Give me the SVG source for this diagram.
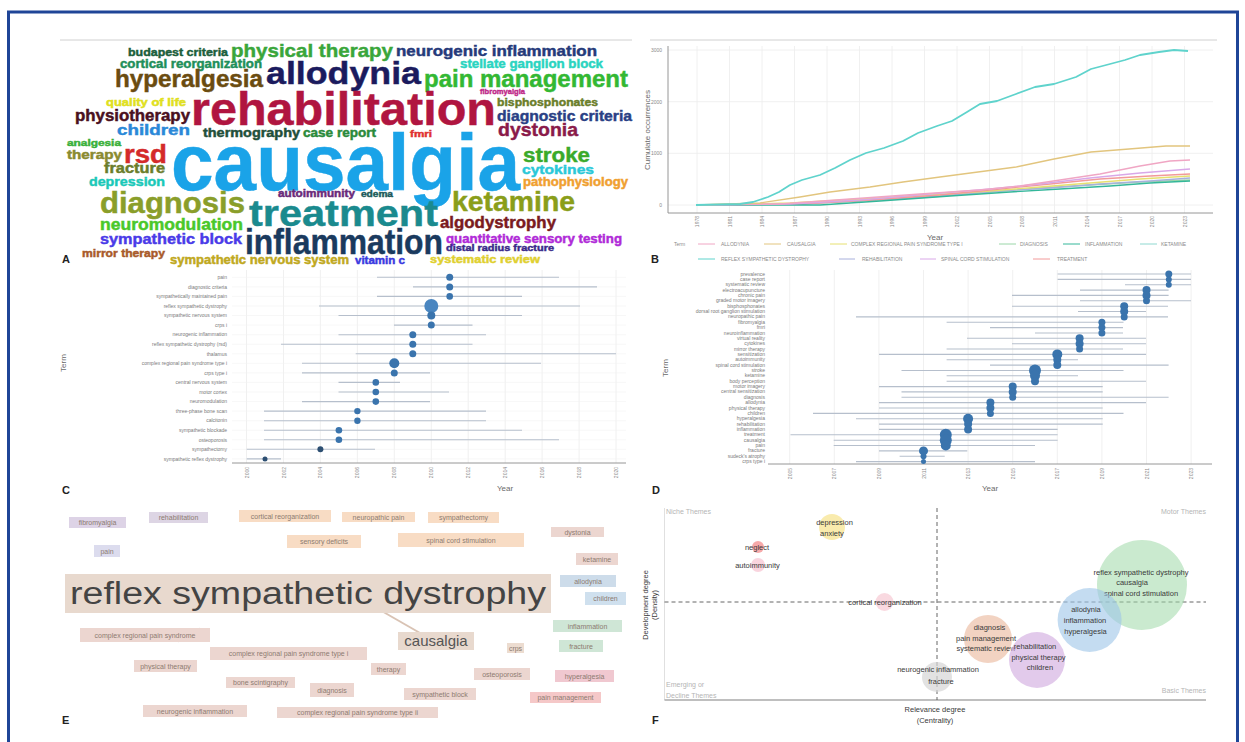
<svg xmlns="http://www.w3.org/2000/svg" width="1245" height="742" viewBox="0 0 1245 742">
<style>
text{font-family:"Liberation Sans",Arial,sans-serif}
.wc{font-family:"Liberation Sans Narrow","Liberation Sans","DejaVu Sans Condensed",sans-serif;font-weight:bold;fill:currentColor;stroke:currentColor;stroke-width:0.45}
.tk{font-size:5px;fill:#8a8a8a}
.ax{stroke:#8a8a8a;stroke-width:0.9}
.gr{stroke:#ececec;stroke-width:0.8}
.rl{stroke:#f2f2f2;stroke-width:0.6}
.seg{stroke:#b6bfcc;stroke-width:1.1}
.dot{fill:#3a74ad}
.lab{font-size:5px;fill:#7a7a7a;text-anchor:end}
.ttl{font-size:8px;fill:#6a6a6a;text-anchor:middle}
.leg{font-size:5px;fill:#8a8a8a}
.pl{font-size:11px;font-weight:bold;fill:#222}
.eb{font-size:7px;fill:#8c7b70;text-anchor:middle}
.ft{font-size:7.5px;fill:#3a3a3a;text-anchor:middle}
.qt{font-size:7px;fill:#b5b5b5}
</style>
<rect width="1245" height="742" fill="#fff"/>
<rect x="8.5" y="12" width="1229" height="740" fill="none" stroke="#1f4597" stroke-width="3"/>

<g id="panel-a">
<line x1="60" y1="40" x2="632" y2="40" stroke="#d0d0d0" stroke-width="1"/>
<text class="wc" x="128" y="56" font-size="11" textLength="100" lengthAdjust="spacingAndGlyphs" color="#1b5e3b">budapest criteria</text>
<text class="wc" x="231" y="57" font-size="19" textLength="162" lengthAdjust="spacingAndGlyphs" color="#3aa63a">physical therapy</text>
<text class="wc" x="396" y="56" font-size="15" textLength="201" lengthAdjust="spacingAndGlyphs" color="#253a7a">neurogenic inflammation</text>
<text class="wc" x="120" y="68" font-size="12" textLength="142" lengthAdjust="spacingAndGlyphs" color="#1e8f5a">cortical reorganization</text>
<text class="wc" x="460" y="68" font-size="12" textLength="143" lengthAdjust="spacingAndGlyphs" color="#2ad4c0">stellate ganglion block</text>
<text class="wc" x="115" y="87" font-size="23" textLength="148" lengthAdjust="spacingAndGlyphs" color="#6b4c10">hyperalgesia</text>
<text class="wc" x="266" y="84" font-size="32" textLength="155" lengthAdjust="spacingAndGlyphs" color="#1b1b5e">allodynia</text>
<text class="wc" x="424" y="87" font-size="23" textLength="204" lengthAdjust="spacingAndGlyphs" color="#33b833">pain management</text>
<text class="wc" x="480" y="94" font-size="8" textLength="45" lengthAdjust="spacingAndGlyphs" color="#c02a8a">fibromyalgia</text>
<text class="wc" x="106" y="106" font-size="10" textLength="80" lengthAdjust="spacingAndGlyphs" color="#e0e020">quality of life</text>
<text class="wc" x="191" y="125" font-size="47" textLength="305" lengthAdjust="spacingAndGlyphs" color="#b01540">rehabilitation</text>
<text class="wc" x="497" y="106" font-size="11" textLength="101" lengthAdjust="spacingAndGlyphs" color="#6a7d2a">bisphosphonates</text>
<text class="wc" x="75" y="121" font-size="16" textLength="115" lengthAdjust="spacingAndGlyphs" color="#4a1020">physiotherapy</text>
<text class="wc" x="497" y="121" font-size="15" textLength="135" lengthAdjust="spacingAndGlyphs" color="#2a3f85">diagnostic criteria</text>
<text class="wc" x="117" y="135" font-size="15" textLength="73" lengthAdjust="spacingAndGlyphs" color="#2a88d8">children</text>
<text class="wc" x="203" y="137" font-size="12" textLength="97" lengthAdjust="spacingAndGlyphs" color="#1f4f3a">thermography</text>
<text class="wc" x="303" y="137" font-size="12" textLength="73" lengthAdjust="spacingAndGlyphs" color="#2a8a3a">case report</text>
<text class="wc" x="410" y="137" font-size="9" textLength="22" lengthAdjust="spacingAndGlyphs" color="#e03030">fmri</text>
<text class="wc" x="498" y="136" font-size="19" textLength="80" lengthAdjust="spacingAndGlyphs" color="#8a1a4a">dystonia</text>
<text class="wc" x="67" y="146" font-size="9" textLength="54" lengthAdjust="spacingAndGlyphs" color="#3ab03a">analgesia</text>
<text class="wc" x="67" y="159" font-size="12" textLength="55" lengthAdjust="spacingAndGlyphs" color="#8a8a30">therapy</text>
<text class="wc" x="124" y="163" font-size="25" textLength="43" lengthAdjust="spacingAndGlyphs" color="#d42a2a">rsd</text>
<text class="wc" x="171" y="190" font-size="80" textLength="349" lengthAdjust="spacingAndGlyphs" color="#1aa3e8">causalgia</text>
<text class="wc" x="523" y="162" font-size="21" textLength="67" lengthAdjust="spacingAndGlyphs" color="#3aaa2a">stroke</text>
<text class="wc" x="104" y="173" font-size="14" textLength="61" lengthAdjust="spacingAndGlyphs" color="#6b7d2a">fracture</text>
<text class="wc" x="522" y="174" font-size="13" textLength="72" lengthAdjust="spacingAndGlyphs" color="#2ac8d8">cytokines</text>
<text class="wc" x="89" y="186" font-size="13" textLength="76" lengthAdjust="spacingAndGlyphs" color="#1ac8b8">depression</text>
<text class="wc" x="523" y="186" font-size="12" textLength="105" lengthAdjust="spacingAndGlyphs" color="#f0a030">pathophysiology</text>
<text class="wc" x="278" y="197" font-size="10" textLength="77" lengthAdjust="spacingAndGlyphs" color="#6a2a7a">autoimmunity</text>
<text class="wc" x="361" y="197" font-size="9" textLength="32" lengthAdjust="spacingAndGlyphs" color="#1a5a5a">edema</text>
<text class="wc" x="100" y="213" font-size="29" textLength="145" lengthAdjust="spacingAndGlyphs" color="#8a9e2a">diagnosis</text>
<text class="wc" x="249" y="226" font-size="37" textLength="189" lengthAdjust="spacingAndGlyphs" color="#1a8a8e">treatment</text>
<text class="wc" x="452" y="211" font-size="28" textLength="123" lengthAdjust="spacingAndGlyphs" color="#8a9e1a">ketamine</text>
<text class="wc" x="100" y="230" font-size="16" textLength="143" lengthAdjust="spacingAndGlyphs" color="#4ac82a">neuromodulation</text>
<text class="wc" x="440" y="228" font-size="17" textLength="116" lengthAdjust="spacingAndGlyphs" color="#7a1a20">algodystrophy</text>
<text class="wc" x="100" y="244" font-size="15" textLength="142" lengthAdjust="spacingAndGlyphs" color="#4a3ae8">sympathetic block</text>
<text class="wc" x="245" y="254" font-size="35" textLength="198" lengthAdjust="spacingAndGlyphs" color="#1a3a5e">inflammation</text>
<text class="wc" x="446" y="243" font-size="12" textLength="176" lengthAdjust="spacingAndGlyphs" color="#b02ad8">quantitative sensory testing</text>
<text class="wc" x="446" y="251" font-size="9" textLength="108" lengthAdjust="spacingAndGlyphs" color="#3a2a8a">distal radius fracture</text>
<text class="wc" x="82" y="257" font-size="11" textLength="83" lengthAdjust="spacingAndGlyphs" color="#a85a2a">mirror therapy</text>
<text class="wc" x="170" y="264" font-size="12" textLength="179" lengthAdjust="spacingAndGlyphs" color="#c0a820">sympathetic nervous system</text>
<text class="wc" x="355" y="264" font-size="10" textLength="50" lengthAdjust="spacingAndGlyphs" color="#3a3ae0">vitamin c</text>
<text class="wc" x="430" y="263" font-size="11" textLength="110" lengthAdjust="spacingAndGlyphs" color="#e0d030">systematic review</text>
<text class="pl" x="62" y="263" font-size="9">A</text>
</g>

<g id="panel-b">
<line x1="650" y1="40" x2="1217" y2="40" stroke="#d0d0d0" stroke-width="1"/>
<g class="gr">
<line x1="668" y1="50" x2="1213" y2="50"/><line x1="668" y1="101.7" x2="1213" y2="101.7"/><line x1="668" y1="153.3" x2="1213" y2="153.3"/><line x1="668" y1="205" x2="1213" y2="205"/>
<line x1="697" y1="46" x2="697" y2="213"/><line x1="729.5" y1="46" x2="729.5" y2="213"/><line x1="762" y1="46" x2="762" y2="213"/><line x1="794.5" y1="46" x2="794.5" y2="213"/><line x1="827" y1="46" x2="827" y2="213"/><line x1="859.5" y1="46" x2="859.5" y2="213"/><line x1="892" y1="46" x2="892" y2="213"/><line x1="924.5" y1="46" x2="924.5" y2="213"/><line x1="957" y1="46" x2="957" y2="213"/><line x1="989.5" y1="46" x2="989.5" y2="213"/><line x1="1022" y1="46" x2="1022" y2="213"/><line x1="1054.5" y1="46" x2="1054.5" y2="213"/><line x1="1087" y1="46" x2="1087" y2="213"/><line x1="1119.5" y1="46" x2="1119.5" y2="213"/><line x1="1152" y1="46" x2="1152" y2="213"/><line x1="1184.5" y1="46" x2="1184.5" y2="213"/>
</g>
<line class="ax" x1="668" y1="46" x2="668" y2="213"/>
<line class="ax" x1="668" y1="213" x2="1213" y2="213"/>
<g class="tk" text-anchor="end">
<text x="662" y="52">3000</text><text x="662" y="103.5">2000</text><text x="662" y="155">1000</text><text x="662" y="207">0</text>
</g>
<text class="ttl" font-size="7" transform="translate(650,130) rotate(-90)">Cumulate occurrences</text>
<g class="tk" text-anchor="end">
<text transform="translate(699,216) rotate(-90)">1978</text><text transform="translate(731.5,216) rotate(-90)">1981</text><text transform="translate(764,216) rotate(-90)">1984</text><text transform="translate(796.5,216) rotate(-90)">1987</text><text transform="translate(829,216) rotate(-90)">1990</text><text transform="translate(861.5,216) rotate(-90)">1993</text><text transform="translate(894,216) rotate(-90)">1996</text><text transform="translate(926.5,216) rotate(-90)">1999</text><text transform="translate(959,216) rotate(-90)">2002</text><text transform="translate(991.5,216) rotate(-90)">2005</text><text transform="translate(1024,216) rotate(-90)">2008</text><text transform="translate(1056.5,216) rotate(-90)">2011</text><text transform="translate(1089,216) rotate(-90)">2014</text><text transform="translate(1121.5,216) rotate(-90)">2017</text><text transform="translate(1154,216) rotate(-90)">2020</text><text transform="translate(1186.5,216) rotate(-90)">2023</text>
</g>
<text class="ttl" x="935" y="240">Year</text>
<g fill="none" stroke-width="1.3" stroke-linejoin="round">
<polyline stroke="#9ad6a8" points="696,205 790,204 860,201 930,197 990,192 1040,188 1090,185 1140,182 1190,180"/>
<polyline stroke="#a8b0dc" points="696,205 800,204 870,200 940,196 1000,191 1050,188 1100,184 1150,181 1190,178"/>
<polyline stroke="#e6e070" points="696,205 790,203 860,199 930,195 990,191 1040,187 1090,183 1140,179 1190,176"/>
<polyline stroke="#f29a9a" points="696,205 800,204 870,200 940,195 1000,189 1050,184 1100,179 1150,176 1190,174"/>
<polyline stroke="#34b79a" points="696,205 820,205 880,201 950,196 1010,192 1060,189 1110,186 1150,183 1190,181"/>
<polyline stroke="#d9a8e8" points="696,205 790,204 860,200 930,194 990,189 1040,184 1090,178 1140,173 1190,169"/>
<polyline stroke="#f0a6c4" points="696,205 780,204 850,199 920,194 980,190 1020,186 1060,180 1100,174 1140,166 1170,161 1190,160"/>
<polyline stroke="#e2c57e" points="696,205 760,203 800,197 830,192 870,187 903,182 940,177 978,172 1016,167 1054,159 1091,152 1129,149 1166,146 1190,146"/>
<polyline stroke="#5fd3cc" stroke-width="1.8" points="696,205 740,204 753,202 768,197 779,192 790,185 802,180 820,175 835,168 850,160 866,153 884,148 903,141 918,133 937,126 952,121 967,112 980,104 997,101 1016,94 1035,87 1054,84 1076,77 1091,69 1110,64 1125,60 1140,55 1159,52 1174,50 1188,51"/>
</g>
<g class="leg">
<text x="674" y="246">Term</text>
<line x1="698" y1="244" x2="715" y2="244" stroke="#f0a6c4"/><text x="721" y="246">ALLODYNIA</text>
<line x1="764" y1="244" x2="781" y2="244" stroke="#e2c57e"/><text x="787" y="246">CAUSALGIA</text>
<line x1="830" y1="244" x2="847" y2="244" stroke="#e6e070"/><text x="851" y="246">COMPLEX REGIONAL PAIN SYNDROME TYPE I</text>
<line x1="999" y1="244" x2="1016" y2="244" stroke="#9ad6a8"/><text x="1020" y="246">DIAGNOSIS</text>
<line x1="1063" y1="244" x2="1080" y2="244" stroke="#34b79a"/><text x="1085" y="246">INFLAMMATION</text>
<line x1="1140" y1="244" x2="1157" y2="244" stroke="#8fd8d0"/><text x="1161" y="246">KETAMINE</text>
<line x1="698" y1="259" x2="715" y2="259" stroke="#5fd3cc"/><text x="721" y="261">REFLEX SYMPATHETIC DYSTROPHY</text>
<line x1="839" y1="259" x2="855" y2="259" stroke="#a8b0dc"/><text x="862" y="261">REHABILITATION</text>
<line x1="920" y1="259" x2="936" y2="259" stroke="#d9a8e8"/><text x="941" y="261">SPINAL CORD STIMULATION</text>
<line x1="1033" y1="259" x2="1050" y2="259" stroke="#f29a9a"/><text x="1057" y="261">TREATMENT</text>
</g>
<text class="pl" x="651" y="263" font-size="9">B</text>
</g>

<g id="panel-c">
<g class="gr">
<line x1="246.5" y1="270" x2="246.5" y2="463"/><line x1="283.5" y1="270" x2="283.5" y2="463"/><line x1="320.4" y1="270" x2="320.4" y2="463"/><line x1="357.4" y1="270" x2="357.4" y2="463"/><line x1="394.3" y1="270" x2="394.3" y2="463"/><line x1="431.3" y1="270" x2="431.3" y2="463"/><line x1="468.2" y1="270" x2="468.2" y2="463"/><line x1="505.2" y1="270" x2="505.2" y2="463"/><line x1="542.1" y1="270" x2="542.1" y2="463"/><line x1="579.1" y1="270" x2="579.1" y2="463"/><line x1="616" y1="270" x2="616" y2="463"/>
</g>
<line class="ax" x1="232" y1="463" x2="626" y2="463"/>
<g class="tk" text-anchor="end">
<text transform="translate(248.5,467) rotate(-90)">2000</text><text transform="translate(285.5,467) rotate(-90)">2002</text><text transform="translate(322.4,467) rotate(-90)">2004</text><text transform="translate(359.4,467) rotate(-90)">2006</text><text transform="translate(396.3,467) rotate(-90)">2008</text><text transform="translate(433.3,467) rotate(-90)">2010</text><text transform="translate(470.2,467) rotate(-90)">2012</text><text transform="translate(507.2,467) rotate(-90)">2014</text><text transform="translate(544.1,467) rotate(-90)">2016</text><text transform="translate(581.1,467) rotate(-90)">2018</text><text transform="translate(618,467) rotate(-90)">2020</text>
</g>
<text class="ttl" x="505" y="491">Year</text>
<text class="ttl" transform="translate(66,363) rotate(-90)">Term</text>
<g class="lab">
<text x="227" y="279">pain</text>
<text x="227" y="288.6">diagnostic criteria</text>
<text x="227" y="298.2">sympathetically maintained pain</text>
<text x="227" y="307.7">reflex sympathetic dystrophy</text>
<text x="227" y="317.3">sympathetic nervous system</text>
<text x="227" y="326.8">crps i</text>
<text x="227" y="336.4">neurogenic inflammation</text>
<text x="227" y="345.9">reflex sympathetic dystrophy (rsd)</text>
<text x="227" y="355.5">thalamus</text>
<text x="227" y="365">complex regional pain syndrome type i</text>
<text x="227" y="374.6">crps type i</text>
<text x="227" y="384.2">central nervous system</text>
<text x="227" y="393.7">motor cortex</text>
<text x="227" y="403.3">neuromodulation</text>
<text x="227" y="412.8">three-phase bone scan</text>
<text x="227" y="422.4">calcitonin</text>
<text x="227" y="431.9">sympathetic blockade</text>
<text x="227" y="441.5">osteoporosis</text>
<text x="227" y="451">sympathectomy</text>
<text x="227" y="460.6">sympathetic reflex dystrophy</text>
</g>
<g class="rl">
<line x1="232" y1="277.3" x2="626" y2="277.3"/><line x1="232" y1="286.9" x2="626" y2="286.9"/><line x1="232" y1="296.4" x2="626" y2="296.4"/><line x1="232" y1="306" x2="626" y2="306"/><line x1="232" y1="315.5" x2="626" y2="315.5"/><line x1="232" y1="325.1" x2="626" y2="325.1"/><line x1="232" y1="334.7" x2="626" y2="334.7"/><line x1="232" y1="344.2" x2="626" y2="344.2"/><line x1="232" y1="353.8" x2="626" y2="353.8"/><line x1="232" y1="363.3" x2="626" y2="363.3"/><line x1="232" y1="372.9" x2="626" y2="372.9"/><line x1="232" y1="382.4" x2="626" y2="382.4"/><line x1="232" y1="392" x2="626" y2="392"/><line x1="232" y1="401.6" x2="626" y2="401.6"/><line x1="232" y1="411.1" x2="626" y2="411.1"/><line x1="232" y1="420.7" x2="626" y2="420.7"/><line x1="232" y1="430.2" x2="626" y2="430.2"/><line x1="232" y1="439.8" x2="626" y2="439.8"/><line x1="232" y1="449.3" x2="626" y2="449.3"/><line x1="232" y1="458.9" x2="626" y2="458.9"/>
</g>
<g class="seg">
<line x1="377" y1="277.3" x2="559" y2="277.3"/><line x1="413" y1="286.9" x2="597" y2="286.9"/><line x1="377" y1="296.4" x2="522" y2="296.4"/><line x1="319" y1="306" x2="580" y2="306"/><line x1="338.5" y1="315.5" x2="522" y2="315.5"/><line x1="394" y1="325.1" x2="472.5" y2="325.1"/><line x1="338.5" y1="334.7" x2="486" y2="334.7"/><line x1="281" y1="344.2" x2="472.5" y2="344.2"/><line x1="355.7" y1="353.8" x2="616" y2="353.8"/><line x1="302" y1="363.3" x2="541" y2="363.3"/><line x1="302" y1="372.9" x2="430" y2="372.9"/><line x1="338.5" y1="382.4" x2="400" y2="382.4"/><line x1="338.5" y1="392" x2="449" y2="392"/><line x1="302" y1="401.6" x2="430" y2="401.6"/><line x1="264" y1="411.1" x2="486" y2="411.1"/><line x1="264" y1="420.7" x2="486" y2="420.7"/><line x1="264" y1="430.2" x2="522" y2="430.2"/><line x1="264" y1="439.8" x2="559" y2="439.8"/><line x1="246.7" y1="449.3" x2="375" y2="449.3"/><line x1="246.7" y1="458.9" x2="281" y2="458.9"/>
</g>
<g class="dot">
<circle cx="449.7" cy="277.3" r="3.5"/><circle cx="449.7" cy="286.9" r="3.5"/><circle cx="449.7" cy="296.4" r="3.3"/><circle cx="431.3" cy="306" r="7" fill="#4a86c0"/><circle cx="431.3" cy="315.5" r="4"/><circle cx="431.3" cy="325.1" r="3.5"/><circle cx="412.8" cy="334.7" r="3.5"/><circle cx="412.8" cy="344.2" r="3.5"/><circle cx="412.8" cy="353.8" r="3.5"/><circle cx="394.3" cy="363.3" r="5"/><circle cx="394.3" cy="372.9" r="3.5"/><circle cx="375.8" cy="382.4" r="3.3"/><circle cx="375.8" cy="392" r="3.3"/><circle cx="375.8" cy="401.6" r="3.3"/><circle cx="357.4" cy="411.1" r="3.2"/><circle cx="357.4" cy="420.7" r="3.2"/><circle cx="338.9" cy="430.2" r="3.3"/><circle cx="338.9" cy="439.8" r="3.3"/><circle cx="320.4" cy="449.3" r="3" fill="#2d4f72"/><circle cx="265" cy="458.9" r="2.5" fill="#2d4f72"/>
</g>
<text class="pl" x="62" y="494" font-size="9">C</text>
</g>

<g id="panel-d">
<g class="gr">
<line x1="789.7" y1="270" x2="789.7" y2="464"/><line x1="834.3" y1="270" x2="834.3" y2="464"/><line x1="878.9" y1="270" x2="878.9" y2="464"/><line x1="923.5" y1="270" x2="923.5" y2="464"/><line x1="968.1" y1="270" x2="968.1" y2="464"/><line x1="1012.7" y1="270" x2="1012.7" y2="464"/><line x1="1057.3" y1="270" x2="1057.3" y2="464"/><line x1="1101.9" y1="270" x2="1101.9" y2="464"/><line x1="1146.5" y1="270" x2="1146.5" y2="464"/><line x1="1191.1" y1="270" x2="1191.1" y2="464"/>
</g>
<line class="ax" x1="768" y1="464" x2="1212" y2="464"/>
<g class="tk" text-anchor="end">
<text transform="translate(791.7,468) rotate(-90)">2005</text><text transform="translate(836.3,468) rotate(-90)">2007</text><text transform="translate(880.9,468) rotate(-90)">2009</text><text transform="translate(925.5,468) rotate(-90)">2011</text><text transform="translate(970.1,468) rotate(-90)">2013</text><text transform="translate(1014.7,468) rotate(-90)">2015</text><text transform="translate(1059.3,468) rotate(-90)">2017</text><text transform="translate(1103.9,468) rotate(-90)">2019</text><text transform="translate(1148.5,468) rotate(-90)">2021</text><text transform="translate(1193.1,468) rotate(-90)">2023</text>
</g>
<text class="ttl" x="990" y="491">Year</text>
<text class="ttl" transform="translate(668,368) rotate(-90)">Term</text>
<g class="lab" font-size="4.3">
<text x="765" y="275.5">prevalence</text><text x="765" y="280.9">case report</text><text x="765" y="286.2">systematic review</text><text x="765" y="291.6">electroacupuncture</text><text x="765" y="296.9">chronic pain</text><text x="765" y="302.3">graded motor imagery</text><text x="765" y="307.7">bisphosphonates</text><text x="765" y="313">dorsal root ganglion stimulation</text><text x="765" y="318.4">neuropathic pain</text><text x="765" y="323.7">fibromyalgia</text><text x="765" y="329.1">fmri</text><text x="765" y="334.5">neuroinflammation</text><text x="765" y="339.8">virtual reality</text><text x="765" y="345.2">cytokines</text><text x="765" y="350.5">mirror therapy</text><text x="765" y="355.9">sensitization</text><text x="765" y="361.3">autoimmunity</text><text x="765" y="366.6">spinal cord stimulation</text><text x="765" y="372">stroke</text><text x="765" y="377.3">ketamine</text><text x="765" y="382.7">body perception</text><text x="765" y="388.1">motor imagery</text><text x="765" y="393.4">central sensitization</text><text x="765" y="398.8">diagnosis</text><text x="765" y="404.1">allodynia</text><text x="765" y="409.5">physical therapy</text><text x="765" y="414.9">children</text><text x="765" y="420.2">hyperalgesia</text><text x="765" y="425.6">rehabilitation</text><text x="765" y="430.9">inflammation</text><text x="765" y="436.3">treatment</text><text x="765" y="441.7">causalgia</text><text x="765" y="447">pain</text><text x="765" y="452.4">fracture</text><text x="765" y="457.7">sudeck's atrophy</text><text x="765" y="463.1">crps type i</text>
</g>
<g class="seg" stroke-width="0.9">
<line x1="1057.6" y1="274" x2="1191" y2="274"/><line x1="1057.6" y1="279.4" x2="1191" y2="279.4"/><line x1="1125" y1="284.7" x2="1191" y2="284.7"/><line x1="1080" y1="290.1" x2="1168.6" y2="290.1"/><line x1="1012" y1="295.4" x2="1168.6" y2="295.4"/><line x1="1080" y1="300.8" x2="1191" y2="300.8"/><line x1="1012" y1="306.2" x2="1168" y2="306.2"/><line x1="1078" y1="311.5" x2="1146" y2="311.5"/><line x1="856" y1="316.9" x2="1168" y2="316.9"/><line x1="946.6" y1="322.2" x2="1123.5" y2="322.2"/><line x1="990" y1="327.6" x2="1123" y2="327.6"/><line x1="1035" y1="333" x2="1123" y2="333"/><line x1="967" y1="338.3" x2="1146" y2="338.3"/><line x1="1012" y1="343.7" x2="1146" y2="343.7"/><line x1="946.6" y1="349" x2="1123" y2="349"/><line x1="879" y1="354.4" x2="1146" y2="354.4"/><line x1="946.6" y1="359.8" x2="1078" y2="359.8"/><line x1="990" y1="365.1" x2="1168.6" y2="365.1"/><line x1="901.5" y1="370.5" x2="1123.5" y2="370.5"/><line x1="946.6" y1="375.8" x2="1078" y2="375.8"/><line x1="946.6" y1="381.2" x2="1146" y2="381.2"/><line x1="879" y1="386.6" x2="1102.7" y2="386.6"/><line x1="901.5" y1="391.9" x2="1102.7" y2="391.9"/><line x1="901.5" y1="397.3" x2="1168.6" y2="397.3"/><line x1="879" y1="402.6" x2="1146" y2="402.6"/><line x1="879" y1="408" x2="1102.7" y2="408"/><line x1="813" y1="413.4" x2="1123.5" y2="413.4"/><line x1="856" y1="418.7" x2="1102.7" y2="418.7"/><line x1="879" y1="424.1" x2="1102.7" y2="424.1"/><line x1="879" y1="429.4" x2="1057.6" y2="429.4"/><line x1="790.5" y1="434.8" x2="1057.6" y2="434.8"/><line x1="833.7" y1="440.2" x2="1057.6" y2="440.2"/><line x1="833.7" y1="445.5" x2="1035" y2="445.5"/><line x1="879" y1="450.9" x2="967.3" y2="450.9"/><line x1="899.6" y1="456.2" x2="944.7" y2="456.2"/><line x1="856" y1="461.6" x2="1035" y2="461.6"/>
</g>
<g class="dot">
<circle cx="1168.8" cy="274" r="3.5"/><circle cx="1168.8" cy="279.4" r="3"/><circle cx="1168.8" cy="284.7" r="3"/>
<circle cx="1146.5" cy="290.1" r="4"/><circle cx="1146.5" cy="295.4" r="4"/><circle cx="1146.5" cy="300.8" r="3.5"/>
<circle cx="1124.2" cy="306.2" r="4"/><circle cx="1124.2" cy="311.5" r="4"/><circle cx="1124.2" cy="316.9" r="3.5"/>
<circle cx="1101.9" cy="322.2" r="3.5"/><circle cx="1101.9" cy="327.6" r="3.5"/><circle cx="1101.9" cy="333" r="3.5"/>
<circle cx="1079.6" cy="338.3" r="4"/><circle cx="1079.6" cy="343.7" r="4"/><circle cx="1079.6" cy="349" r="3.5"/>
<circle cx="1057.3" cy="354.4" r="5"/><circle cx="1057.3" cy="359.8" r="4"/><circle cx="1057.3" cy="365.1" r="4"/>
<circle cx="1035" cy="370.5" r="6"/><circle cx="1035" cy="375.8" r="5"/><circle cx="1035" cy="381.2" r="4"/>
<circle cx="1012.7" cy="386.6" r="4"/><circle cx="1012.7" cy="391.9" r="4"/><circle cx="1012.7" cy="397.3" r="3.5"/>
<circle cx="990.4" cy="402.6" r="4"/><circle cx="990.4" cy="408" r="4"/><circle cx="990.4" cy="413.4" r="3.5"/>
<circle cx="968.1" cy="418.7" r="5"/><circle cx="968.1" cy="424.1" r="4"/><circle cx="968.1" cy="429.4" r="4"/>
<circle cx="945.8" cy="434.8" r="6"/><circle cx="945.8" cy="440.2" r="6"/><circle cx="945.8" cy="445.5" r="5"/>
<circle cx="923.5" cy="450.9" r="4.5"/><circle cx="923.5" cy="456.2" r="3"/><circle cx="923.5" cy="461.6" r="2.5"/>
</g>
<text class="pl" x="652" y="494" font-size="9">D</text>
</g>

<g id="panel-e">
<g id="e-connectors">
<line x1="373" y1="606" x2="420" y2="633" stroke="#d9c3b4" stroke-width="2"/>
<line x1="178" y1="642" x2="200" y2="628" stroke="#ece2da" stroke-width="1"/>
</g>
<g id="e-node-1"><rect x="69" y="517" width="57" height="11" fill="#ddd3e6"/><text class="eb" x="97.5" y="525">fibromyalgia</text></g>
<g id="e-node-2"><rect x="149" y="512" width="59" height="11" fill="#ddd5e4"/><text class="eb" x="178.5" y="520">rehabilitation</text></g>
<g id="e-node-3"><rect x="239" y="510" width="92" height="12" fill="#f8dcc4"/><text class="eb" x="285" y="518.5">cortical reorganization</text></g>
<g id="e-node-4"><rect x="342" y="512" width="73" height="10" fill="#f8dcc4"/><text class="eb" x="378.5" y="519.5">neuropathic pain</text></g>
<g id="e-node-5"><rect x="428" y="512" width="71" height="11" fill="#f8dcc4"/><text class="eb" x="463.5" y="520">sympathectomy</text></g>
<g id="e-node-6"><rect x="551" y="527" width="53" height="10" fill="#ecd6d0"/><text class="eb" x="577.5" y="534.5">dystonia</text></g>
<g id="e-node-7"><rect x="94" y="545" width="26" height="12" fill="#dcdcee"/><text class="eb" x="107" y="553.5">pain</text></g>
<g id="e-node-8"><rect x="287" y="535" width="74" height="13" fill="#f8dcc4"/><text class="eb" x="324" y="544">sensory deficits</text></g>
<g id="e-node-9"><rect x="398" y="533" width="126" height="14" fill="#f8dcc4"/><text class="eb" x="461" y="543" font-size="9" fill="#a08060">spinal cord stimulation</text></g>
<g id="e-node-10"><rect x="576" y="553" width="42" height="12" fill="#ecd6d0"/><text class="eb" x="597" y="561.5">ketamine</text></g>
<g id="e-node-11"><rect x="65" y="574" width="486" height="39" fill="#e8d9ce"/><text x="308" y="604" font-size="31" fill="#444" text-anchor="middle" textLength="476" lengthAdjust="spacingAndGlyphs">reflex sympathetic dystrophy</text></g>
<g id="e-node-12"><rect x="560" y="575" width="56" height="12" fill="#cddcea"/><text class="eb" x="588" y="583.5">allodynia</text></g>
<g id="e-node-13"><rect x="585" y="592" width="41" height="13" fill="#cfe0ee"/><text class="eb" x="605.5" y="601">children</text></g>
<g id="e-node-14"><rect x="553" y="620" width="69" height="12" fill="#cfe6d6"/><text class="eb" x="587.5" y="628.5">inflammation</text></g>
<g id="e-node-15"><rect x="80" y="628" width="130" height="14" fill="#ecd6d0"/><text class="eb" x="145" y="637.5">complex regional pain syndrome</text></g>
<g id="e-node-16"><rect x="398" y="632" width="76" height="18" fill="#e8d9ce"/><text x="436" y="646" font-size="15" fill="#555" text-anchor="middle">causalgia</text></g>
<g id="e-node-17"><rect x="507" y="643" width="17" height="10" fill="#ecdcd0"/><text class="eb" x="515.5" y="650.5" font-size="5">crps</text></g>
<g id="e-node-18"><rect x="559" y="640" width="44" height="12" fill="#cfe6d6"/><text class="eb" x="581" y="648.5">fracture</text></g>
<g id="e-node-19"><rect x="210" y="647" width="157" height="13" fill="#ecd6d0"/><text class="eb" x="288.5" y="656">complex regional pain syndrome type i</text></g>
<g id="e-node-20"><rect x="134" y="660" width="63" height="12" fill="#ecd6d0"/><text class="eb" x="165.5" y="668.5">physical therapy</text></g>
<g id="e-node-21"><rect x="371" y="663" width="35" height="12" fill="#ecd6d0"/><text class="eb" x="388.5" y="671.5">therapy</text></g>
<g id="e-node-22"><rect x="474" y="668" width="56" height="12" fill="#ecd6d0"/><text class="eb" x="502" y="676.5">osteoporosis</text></g>
<g id="e-node-23"><rect x="555" y="670" width="59" height="12" fill="#f0c8d0"/><text class="eb" x="584.5" y="678.5">hyperalgesia</text></g>
<g id="e-node-24"><rect x="226" y="677" width="69" height="11" fill="#ecd6d0"/><text class="eb" x="260.5" y="685">bone scintigraphy</text></g>
<g id="e-node-25"><rect x="310" y="683" width="44" height="14" fill="#ecd6d0"/><text class="eb" x="332" y="692.5">diagnosis</text></g>
<g id="e-node-26"><rect x="404" y="688" width="72" height="12" fill="#ecd6d0"/><text class="eb" x="440" y="696.5">sympathetic block</text></g>
<g id="e-node-27"><rect x="530" y="692" width="71" height="11" fill="#f5c8c8"/><text class="eb" x="565.5" y="700">pain management</text></g>
<g id="e-node-28"><rect x="143" y="705" width="104" height="12" fill="#ecd6d0"/><text class="eb" x="195" y="713.5">neurogenic inflammation</text></g>
<g id="e-node-29"><rect x="277" y="707" width="161" height="11" fill="#ecd6d0"/><text class="eb" x="357.5" y="715">complex regional pain syndrome type ii</text></g>
<text class="pl" x="62" y="724" font-size="9">E</text>
</g>

<g id="panel-f">
<line x1="664.5" y1="508" x2="664.5" y2="700" stroke="#d8d8d8" stroke-width="0.8"/>
<line x1="664.5" y1="700" x2="1206" y2="700" stroke="#aaaaaa" stroke-width="1.3"/>
<line x1="937" y1="508" x2="937" y2="700" stroke="#555" stroke-width="0.9" stroke-dasharray="4,3"/>
<line x1="664.5" y1="602" x2="1206" y2="602" stroke="#555" stroke-width="0.9" stroke-dasharray="4,3"/>
<text class="qt" x="666" y="514">Niche Themes</text>
<text class="qt" x="1206" y="514" text-anchor="end">Motor Themes</text>
<text class="qt" x="666" y="687">Emerging or</text>
<text class="qt" x="666" y="698">Decline Themes</text>
<text class="qt" x="1206" y="693" text-anchor="end">Basic Themes</text>
<text class="ft" x="935" y="712" fill="#555">Relevance degree</text>
<text class="ft" x="935" y="723" fill="#555">(Centrality)</text>
<text class="ft" transform="translate(648,605) rotate(-90)" fill="#555">Development degree</text>
<text class="ft" transform="translate(657,605) rotate(-90)" fill="#555">(Density)</text>
<g id="f-green"><circle cx="1142" cy="585" r="45" fill="#9ed8a8" fill-opacity="0.55"/><text class="ft" x="1141" y="575">reflex sympathetic dystrophy</text><text class="ft" x="1132" y="585">causalgia</text><text class="ft" x="1141" y="596">spinal cord stimulation</text></g>
<g id="f-blue"><circle cx="1089.6" cy="620" r="32" fill="#9cc4e8" fill-opacity="0.6"/><text class="ft" x="1086" y="612">allodynia</text><text class="ft" x="1085" y="623">inflammation</text><text class="ft" x="1085.5" y="634">hyperalgesia</text></g>
<g id="f-salmon"><circle cx="988" cy="639" r="24" fill="#ecc0a8" fill-opacity="0.7"/><text class="ft" x="989.5" y="630">diagnosis</text><text class="ft" x="986" y="641">pain management</text><text class="ft" x="986" y="651">systematic review</text></g>
<g id="f-purple"><circle cx="1037" cy="660" r="28" fill="#d2aee0" fill-opacity="0.65"/><text class="ft" x="1035" y="649">rehabilitation</text><text class="ft" x="1038.5" y="660">physical therapy</text><text class="ft" x="1040" y="670">children</text></g>
<g id="f-gray"><circle cx="937" cy="677" r="15" fill="#d6d6d6" fill-opacity="0.7"/><text class="ft" x="938" y="672">neurogenic inflammation</text><text class="ft" x="941" y="684">fracture</text></g>
<g id="f-yellow"><circle cx="832" cy="527" r="13" fill="#f6e28a" fill-opacity="0.7"/><text class="ft" x="834.5" y="525">depression</text><text class="ft" x="832" y="536">anxiety</text></g>
<g id="f-red"><circle cx="758" cy="547" r="6" fill="#f07070" fill-opacity="0.6"/><text class="ft" x="757" y="549.5">neglect</text></g>
<g id="f-pink"><circle cx="758" cy="565" r="7" fill="#f5b8c8" fill-opacity="0.6"/><text class="ft" x="757.5" y="567.5">autoimmunity</text></g>
<g id="f-pink2"><circle cx="884.5" cy="602" r="9" fill="#f5c0cc" fill-opacity="0.6"/><text class="ft" x="885" y="604.5">cortical reorganization</text></g>
<text class="pl" x="652" y="724" font-size="9">F</text>
</g>
</svg>
